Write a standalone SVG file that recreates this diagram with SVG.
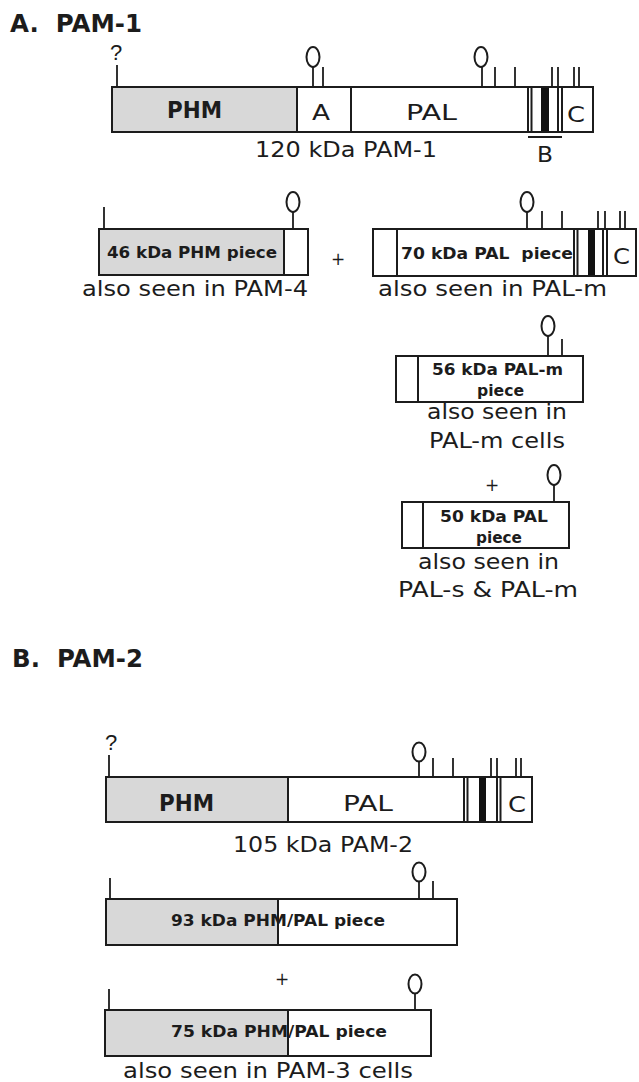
<svg xmlns="http://www.w3.org/2000/svg" width="639" height="1082" viewBox="0 0 639 1082">
<style>
.bg{fill:#ffffff}
.shade{fill:#d8d8d8;stroke:none}
.out{fill:none;stroke:#1c1c1c;stroke-width:2}
.ln{stroke:#1c1c1c;stroke-width:2;fill:none}
.tk{stroke:#1c1c1c;stroke-width:1.8;fill:none}
.bar{fill:#111111}
.lol{fill:#ffffff;stroke:#1c1c1c;stroke-width:2}
.hd{font-family:"DejaVu Sans","Liberation Sans",sans-serif;font-weight:bold;font-size:24px;fill:#1c1c1c}
.lb{font-family:"DejaVu Sans","Liberation Sans",sans-serif;font-weight:bold;font-size:23px;fill:#1c1c1c}
.lg{font-family:"DejaVu Sans","Liberation Sans",sans-serif;font-size:22px;fill:#1c1c1c}
.sm{font-family:"DejaVu Sans","Liberation Sans",sans-serif;font-weight:bold;font-size:15px;fill:#1c1c1c}
.q{font-family:"Liberation Sans",sans-serif;font-size:22px;fill:#1c1c1c}
.pl{font-family:"DejaVu Sans",sans-serif;font-size:17px;fill:#1c1c1c}
</style>
<rect class="bg" x="0" y="0" width="639" height="1082"/>

<g id="headingA">
<text class="hd" x="10" y="32" textLength="132" lengthAdjust="spacingAndGlyphs" xml:space="preserve">A.  PAM-1</text>
</g>

<g id="pam1">
<rect class="shade" x="112" y="87" width="185" height="45"/>
<rect class="bar" x="541" y="87" width="8" height="45"/>
<rect class="out" x="112" y="87" width="481" height="45"/>
<line class="ln" x1="297" y1="87" x2="297" y2="132"/>
<line class="ln" x1="351" y1="87" x2="351" y2="132"/>
<line class="ln" x1="528" y1="87" x2="528" y2="132"/>
<line class="ln" x1="531.5" y1="87" x2="531.5" y2="132"/>
<line class="ln" x1="558" y1="87" x2="558" y2="132"/>
<line class="ln" x1="562" y1="87" x2="562" y2="132"/>
<line class="ln" x1="528" y1="137" x2="562" y2="137"/>
<line class="tk" x1="117" y1="65" x2="117" y2="87"/>
<text class="q" x="116" y="60" text-anchor="middle">?</text>
<line class="tk" x1="313" y1="67" x2="313" y2="87"/>
<ellipse class="lol" cx="313" cy="57" rx="6.5" ry="10"/>
<line class="tk" x1="323" y1="67" x2="323" y2="87"/>
<line class="tk" x1="482" y1="67" x2="482" y2="87"/>
<ellipse class="lol" cx="481" cy="57" rx="6.5" ry="10"/>
<line class="tk" x1="495" y1="67" x2="495" y2="87"/>
<line class="tk" x1="515" y1="67" x2="515" y2="87"/>
<line class="tk" x1="552" y1="67" x2="552" y2="87"/>
<line class="tk" x1="558" y1="67" x2="558" y2="87"/>
<line class="tk" x1="574" y1="67" x2="574" y2="87"/>
<line class="tk" x1="579" y1="67" x2="579" y2="87"/>
<text class="lb" x="167" y="118" textLength="55" lengthAdjust="spacingAndGlyphs">PHM</text>
<text class="lg" x="312" y="120" textLength="18" lengthAdjust="spacingAndGlyphs">A</text>
<text class="lg" x="406" y="120" textLength="51" lengthAdjust="spacingAndGlyphs">PAL</text>
<text class="lg" x="567" y="122" textLength="18" lengthAdjust="spacingAndGlyphs">C</text>
<text class="lg" x="537" y="162" textLength="16" lengthAdjust="spacingAndGlyphs">B</text>
<text class="lg" x="255" y="157" textLength="182" lengthAdjust="spacingAndGlyphs">120 kDa PAM-1</text>
</g>

<g id="phm46">
<rect class="shade" x="99" y="229" width="185" height="46"/>
<rect class="out" x="99" y="229" width="209" height="46"/>
<line class="ln" x1="284" y1="229" x2="284" y2="275"/>
<line class="tk" x1="104" y1="207" x2="104" y2="229"/>
<line class="tk" x1="293" y1="212" x2="293" y2="229"/>
<ellipse class="lol" cx="293" cy="202" rx="6.5" ry="10"/>
<text class="sm" x="107" y="258" textLength="170" lengthAdjust="spacingAndGlyphs">46 kDa PHM piece</text>
<text class="lg" x="82" y="296" textLength="226" lengthAdjust="spacingAndGlyphs">also seen in PAM-4</text>
</g>

<g id="plus-signs">
<text class="pl" x="338" y="265" text-anchor="middle">+</text>
<text class="pl" x="492" y="491" text-anchor="middle">+</text>
<text class="pl" x="282" y="985" text-anchor="middle">+</text>
</g>

<g id="pal70">
<rect class="bar" x="588" y="229" width="7" height="47"/>
<rect class="out" x="373" y="229" width="263" height="47"/>
<line class="ln" x1="397" y1="229" x2="397" y2="276"/>
<line class="ln" x1="574" y1="229" x2="574" y2="276"/>
<line class="ln" x1="577.5" y1="229" x2="577.5" y2="276"/>
<line class="ln" x1="603" y1="229" x2="603" y2="276"/>
<line class="ln" x1="607" y1="229" x2="607" y2="276"/>
<line class="tk" x1="527" y1="212" x2="527" y2="229"/>
<ellipse class="lol" cx="527" cy="202" rx="6.5" ry="10"/>
<line class="tk" x1="542" y1="211" x2="542" y2="229"/>
<line class="tk" x1="562" y1="211" x2="562" y2="229"/>
<line class="tk" x1="598" y1="211" x2="598" y2="229"/>
<line class="tk" x1="605" y1="211" x2="605" y2="229"/>
<line class="tk" x1="620" y1="211" x2="620" y2="229"/>
<line class="tk" x1="625" y1="211" x2="625" y2="229"/>
<text class="sm" x="401" y="259" textLength="172" lengthAdjust="spacingAndGlyphs" xml:space="preserve">70 kDa PAL  piece</text>
<text class="lg" x="613" y="264" textLength="17" lengthAdjust="spacingAndGlyphs">C</text>
<text class="lg" x="378" y="296" textLength="229" lengthAdjust="spacingAndGlyphs">also seen in PAL-m</text>
</g>

<g id="palm56">
<rect class="out" x="396" y="356" width="187" height="46"/>
<line class="ln" x1="418" y1="356" x2="418" y2="402"/>
<line class="tk" x1="548" y1="336" x2="548" y2="356"/>
<ellipse class="lol" cx="548" cy="326" rx="6.5" ry="10"/>
<line class="tk" x1="562" y1="339" x2="562" y2="356"/>
<text class="sm" x="432" y="375" textLength="131" lengthAdjust="spacingAndGlyphs">56 kDa PAL-m</text>
<text class="sm" x="477" y="396" textLength="47" lengthAdjust="spacingAndGlyphs">piece</text>
<text class="lg" x="427" y="419" textLength="140" lengthAdjust="spacingAndGlyphs">also seen in</text>
<text class="lg" x="429" y="448" textLength="136" lengthAdjust="spacingAndGlyphs">PAL-m cells</text>
</g>

<g id="pal50">
<rect class="out" x="402" y="502" width="167" height="46"/>
<line class="ln" x1="423" y1="502" x2="423" y2="548"/>
<line class="tk" x1="554" y1="485" x2="554" y2="502"/>
<ellipse class="lol" cx="554" cy="475" rx="6.5" ry="10"/>
<text class="sm" x="440" y="522" textLength="108" lengthAdjust="spacingAndGlyphs">50 kDa PAL</text>
<text class="sm" x="476" y="543" textLength="46" lengthAdjust="spacingAndGlyphs">piece</text>
<text class="lg" x="418" y="569" textLength="141" lengthAdjust="spacingAndGlyphs">also seen in</text>
<text class="lg" x="398" y="597" textLength="180" lengthAdjust="spacingAndGlyphs">PAL-s &amp; PAL-m</text>
</g>

<g id="headingB">
<text class="hd" x="12" y="667" textLength="131" lengthAdjust="spacingAndGlyphs" xml:space="preserve">B.  PAM-2</text>
</g>

<g id="pam2">
<rect class="shade" x="106" y="777" width="182" height="45"/>
<rect class="bar" x="479" y="777" width="7" height="45"/>
<rect class="out" x="106" y="777" width="426" height="45"/>
<line class="ln" x1="288" y1="777" x2="288" y2="822"/>
<line class="ln" x1="464" y1="777" x2="464" y2="822"/>
<line class="ln" x1="467.5" y1="777" x2="467.5" y2="822"/>
<line class="ln" x1="497" y1="777" x2="497" y2="822"/>
<line class="ln" x1="500.5" y1="777" x2="500.5" y2="822"/>
<line class="tk" x1="109" y1="755" x2="109" y2="777"/>
<text class="q" x="111" y="750" text-anchor="middle">?</text>
<line class="tk" x1="419" y1="761" x2="419" y2="777"/>
<ellipse class="lol" cx="419" cy="752" rx="6.5" ry="9.5"/>
<line class="tk" x1="433" y1="758" x2="433" y2="777"/>
<line class="tk" x1="453" y1="758" x2="453" y2="777"/>
<line class="tk" x1="491" y1="758" x2="491" y2="777"/>
<line class="tk" x1="497" y1="758" x2="497" y2="777"/>
<line class="tk" x1="516" y1="758" x2="516" y2="777"/>
<line class="tk" x1="521" y1="758" x2="521" y2="777"/>
<text class="lb" x="159" y="811" textLength="55" lengthAdjust="spacingAndGlyphs">PHM</text>
<text class="lg" x="343" y="811" textLength="50" lengthAdjust="spacingAndGlyphs">PAL</text>
<text class="lg" x="508" y="812" textLength="18" lengthAdjust="spacingAndGlyphs">C</text>
<text class="lg" x="233" y="852" textLength="180" lengthAdjust="spacingAndGlyphs">105 kDa PAM-2</text>
</g>

<g id="piece93">
<rect class="shade" x="106" y="899" width="172" height="46"/>
<text class="sm" x="171" y="926" textLength="214" lengthAdjust="spacingAndGlyphs">93 kDa PHM/PAL piece</text>
<rect class="out" x="106" y="899" width="351" height="46"/>
<line class="ln" x1="278" y1="899" x2="278" y2="945"/>
<line class="tk" x1="110" y1="878" x2="110" y2="899"/>
<line class="tk" x1="419" y1="882" x2="419" y2="899"/>
<ellipse class="lol" cx="419" cy="872" rx="6.5" ry="9.5"/>
<line class="tk" x1="433" y1="881" x2="433" y2="899"/>
</g>

<g id="piece75">
<rect class="shade" x="105" y="1010" width="183" height="46"/>
<text class="sm" x="171" y="1037" textLength="216" lengthAdjust="spacingAndGlyphs">75 kDa PHM/PAL piece</text>
<rect class="out" x="105" y="1010" width="326" height="46"/>
<line class="ln" x1="288" y1="1010" x2="288" y2="1056"/>
<line class="tk" x1="109" y1="989" x2="109" y2="1010"/>
<line class="tk" x1="415" y1="993" x2="415" y2="1010"/>
<ellipse class="lol" cx="415" cy="984" rx="6.5" ry="9.5"/>
<text class="lg" x="123" y="1078" textLength="290" lengthAdjust="spacingAndGlyphs">also seen in PAM-3 cells</text>
</g>
</svg>
